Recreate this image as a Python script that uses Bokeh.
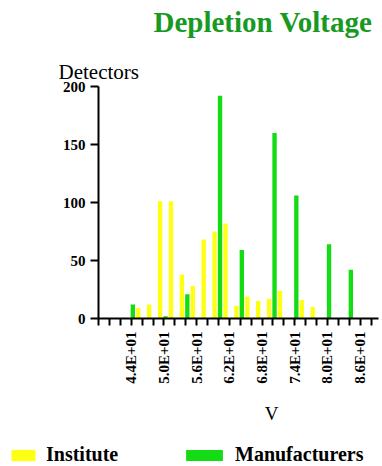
import math
from bokeh.plotting import figure
from bokeh.models import (FixedTicker, Label, Legend, LegendItem, LinearAxis,
                          ColumnDataSource, Range1d)
from bokeh.transform import dodge
from bokeh.embed import file_html
from bokeh.resources import INLINE

# ---- data ----
bins = [38, 40, 42, 44, 46, 48, 50, 52, 54, 56, 58, 60, 62,
        64, 66, 68, 70, 72, 74, 76, 78, 80, 82, 84, 86]
institute = [0, 0, 0, 9, 12, 101, 101, 38, 28, 68, 75, 82, 11,
             19, 15, 17, 24, 0, 16, 10, 0, 0, 0, 0, 0]
manufacturers = [0, 0, 0, 12, 0, 0, 2, 0, 21, 0, 0, 192, 0,
                 59, 0, 0, 160, 0, 106, 0, 0, 64, 0, 42, 0]
tick_values = list(range(38, 90, 2))
label_values = [44, 50, 56, 62, 68, 74, 80, 86]
tick_labels = ["4.4E+01", "5.0E+01", "5.6E+01", "6.2E+01",
               "6.8E+01", "7.4E+01", "8.0E+01", "8.6E+01"]
y_ticks = [0, 50, 100, 150, 200]
series_names = ["Institute", "Manufacturers"]
x_bounds = (38, 89.4)
y_bounds = (0, 200)

YELLOW = "#ffff14"
GREEN = "#14dc14"
SERIF = "Liberation Serif"
W, H = 382, 466

# pixel geometry of the plotting area on the page
X0_PX, X_SCALE = 98, 5.45        # px of x=38, px per volt
Y0_PX, Y_SCALE = 318, 232 / 200  # px of y=0, px per detector

xr = Range1d(x_bounds[0] - X0_PX / X_SCALE,
             x_bounds[0] + (W - X0_PX) / X_SCALE)
yr = Range1d(-(H - Y0_PX) / Y_SCALE, Y0_PX / Y_SCALE)

p = figure(width=W, height=H, output_backend="svg", toolbar_location=None,
           x_range=xr, y_range=yr, min_border=0,
           x_axis_location=None, y_axis_location=None)
p.outline_line_color = None
p.grid.visible = False

src = ColumnDataSource(dict(bin=bins, institute=institute,
                            manufacturers=manufacturers))
r_man = p.vbar(x=dodge("bin", 0.3, range=p.x_range), top="manufacturers",
               width=0.8, source=src, fill_color=GREEN, line_color=None)
r_ins = p.vbar(x=dodge("bin", 1.3, range=p.x_range), top="institute",
               width=0.8, source=src, fill_color=YELLOW, line_color=None)

ov = {v: "" for v in tick_values}
ov.update({v: t for v, t in zip(label_values, tick_labels)})
xa = LinearAxis(fixed_location=y_bounds[0], bounds=x_bounds,
                ticker=FixedTicker(ticks=tick_values, minor_ticks=[]),
                major_label_overrides=ov,
                major_label_orientation=math.pi / 2,
                major_label_standoff=6, major_tick_out=7)
ya = LinearAxis(fixed_location=x_bounds[0], bounds=y_bounds,
                ticker=FixedTicker(ticks=y_ticks, minor_ticks=[]),
                major_label_standoff=5, major_tick_out=8)
for ax in (xa, ya):
    ax.major_label_text_font = SERIF
    ax.major_label_text_font_style = "bold"
    ax.major_label_text_font_size = "15px"
    ax.major_label_text_color = "black"
    ax.axis_line_width = 2
    ax.axis_line_color = "black"
    ax.major_tick_line_width = 2
    ax.major_tick_line_color = "black"
    ax.major_tick_in = 0
    ax.minor_tick_line_color = None
p.add_layout(xa, "below")
p.add_layout(ya, "left")


def lab(px, py, text, size, style="normal", color="black", align="left"):
    # px, py: page position of text anchor, from top-left
    p.add_layout(Label(x=px, y=H - py, x_units="screen", y_units="screen",
                       text=text, text_font=SERIF, text_font_size=size,
                       text_font_style=style, text_color=color,
                       text_align=align, text_baseline="alphabetic"))


lab(153, 21, "Depletion Voltage", "29px", "bold", "#179a1f")
lab(58, 71, "Detectors", "21px")
lab(271, 413, "V", "19px", align="center")


def make_legend(name, renderer, gw, x0):
    leg = Legend(items=[LegendItem(label=name, renderers=[renderer])],
                 location=(x0, 0), orientation="horizontal",
                 glyph_width=gw, glyph_height=14,
                 label_standoff=8, padding=0, margin=0, spacing=0,
                 border_line_color=None, background_fill_alpha=0,
                 label_text_font=SERIF, label_text_font_style="bold",
                 label_text_font_size="20px", label_text_color="black")
    p.add_layout(leg)


make_legend(series_names[0], r_ins, 30, 8)
make_legend(series_names[1], r_man, 46, 181)

open("out.html", "w").write(file_html(p, INLINE))
